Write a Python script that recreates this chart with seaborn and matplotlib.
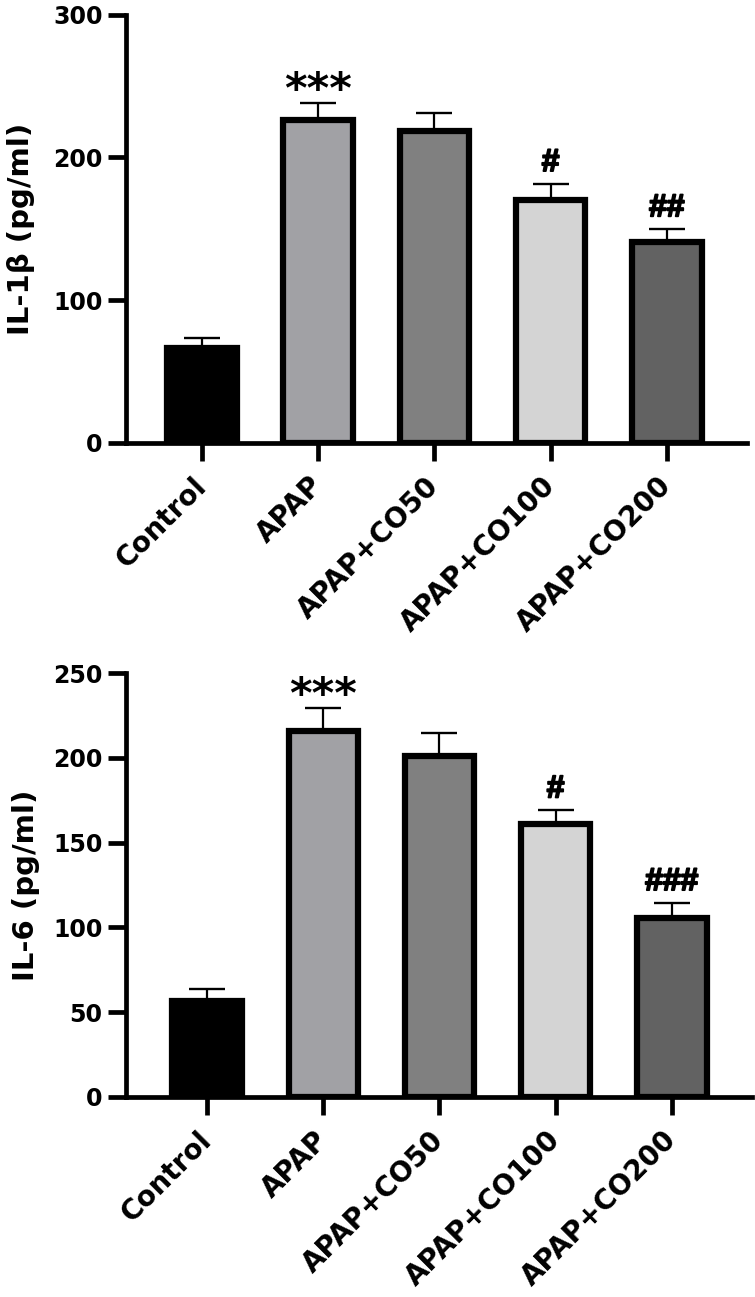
import pandas as pd
import matplotlib
matplotlib.use('Agg')
import matplotlib.pyplot as plt
import matplotlib.patheffects as pe
from matplotlib.font_manager import FontProperties
import seaborn as sns

# data (mean and SEM per group)
groups = ['Control', 'APAP', 'APAP+CO50', 'APAP+CO100', 'APAP+CO200']
il1b_mean = [66.5, 226, 218.5, 170, 141]
il1b_sem = [6.7, 12, 12.5, 11.7, 9]
il6_mean = [56.6, 215.7, 201, 161.2, 105.4]
il6_sem = [6.8, 13.7, 13.8, 8.1, 9.2]
il1b_marks = ['', '***', '', '#', '##']
il6_marks = ['', '***', '', '#', '###']

bar_colors = ['#000000', '#a1a1a5', '#808080', '#d4d4d4', '#626262']

sns.set_style('ticks')
plt.rcParams['font.family'] = ['DejaVu Sans']
plt.rcParams['font.weight'] = 'bold'
for key in ['text.color', 'axes.labelcolor', 'axes.edgecolor', 'xtick.color', 'ytick.color']:
    plt.rcParams[key] = 'black'

star_font = FontProperties(family='DejaVu Sans', weight='bold', size=31)
hash_font = FontProperties(family='Liberation Sans', weight='bold', size=23)


def draw_panel(ax, means, sems, marks, ylabel, ymax, ystep, xlim, label_x):
    """Bar chart with one-sided SEM bars and significance marks."""
    df = pd.DataFrame({'group': groups, 'value': means})
    sns.barplot(
        ax=ax,
        data=df,
        x='group',
        y='value',
        hue='group',
        palette=bar_colors,
        legend=False,
        errorbar=None,
        width=0.6,
        edgecolor='black',
        linewidth=4.5
    )
    ax.errorbar(
        x=list(range(len(groups))),
        y=means,
        yerr=[[0] * len(sems), sems],
        fmt='none',
        ecolor='black',
        elinewidth=1.6,
        capsize=13.3,
        capthick=1.7,
        zorder=0.5
    )
    # significance marks above the error caps
    for i, mark in enumerate(marks):
        if not mark:
            continue
        top = means[i] + sems[i]
        if mark.startswith('*'):
            ax.annotate(mark, (i, top), xytext=(0, 0), textcoords='offset points',
                        ha='center', va='baseline', fontproperties=star_font)
        else:
            txt = ax.annotate(mark, (i, top), xytext=(0, 9), textcoords='offset points',
                              ha='center', va='baseline', fontproperties=hash_font)
            txt.set_path_effects([pe.withStroke(linewidth=1.3, foreground='black')])

    ax.set_xlim(*xlim)
    ax.set_ylim(0, ymax)
    ax.set_yticks(list(range(0, ymax + 1, ystep)))
    ax.set_xlabel('')
    ax.set_ylabel(ylabel, fontsize=21, fontweight='bold')
    ax.yaxis.set_label_coords(label_x, 0.5)
    sns.despine(ax=ax)
    for side in ['left', 'bottom']:
        ax.spines[side].set_linewidth(3.4)
    ax.tick_params(axis='both', length=13, width=3.4)
    ax.tick_params(axis='y', labelsize=17, pad=4)
    ax.tick_params(axis='x', labelsize=20, pad=15)
    for lab in ax.get_xticklabels():
        lab.set_rotation(45)
        lab.set_ha('right')
        lab.set_va('center')
        lab.set_rotation_mode('anchor')
        lab.set_fontweight('bold')
    for lab in ax.get_yticklabels():
        lab.set_fontweight('bold')


fig = plt.figure(figsize=(7.55, 12.97), dpi=100)
ax_top = fig.add_axes([0.1669, 0.6587, 0.8221, 0.3298])
ax_bot = fig.add_axes([0.1669, 0.1544, 0.8287, 0.3265])

draw_panel(ax_top, il1b_mean, il1b_sem, il1b_marks, 'IL-1β (pg/ml)',
           300, 100, (-0.654, 4.688), -0.147)
draw_panel(ax_bot, il6_mean, il6_sem, il6_marks, 'IL-6 (pg/ml)',
           250, 50, (-0.700, 4.689), -0.137)

plt.savefig('out.png', dpi=100)
